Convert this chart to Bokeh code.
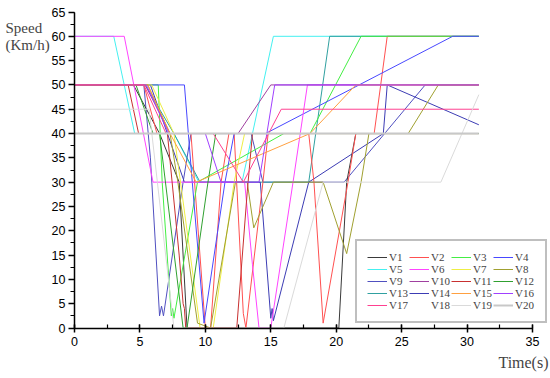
from bokeh.plotting import figure
from bokeh.models import Range1d, SingleIntervalTicker, Legend, LegendItem, Label
from bokeh.embed import file_html
from bokeh.resources import INLINE

NAMES = ["V%d" % i for i in range(1, 21)]
COLORS = ["#3a3a3a", "#ff5050", "#44ee44", "#4848ff", "#44f0f0", "#ff44ff", "#eeee44", "#a0a030",
          "#5050c0", "#a040a0", "#c83030", "#30a030", "#30a0a0", "#3c3cb4", "#ffa040", "#a040ff",
          "#ff4090", "#ffffff", "#dadada", "#c8c8c8"]

V1_T = [0, 4.5, 6.5, 8.0, 8.6, 20.2, 20.8, 21.5, 30.9]
V1_S = [50, 50, 40, 30, 0, 0, 30, 40, 40]
V2_T = [0, 5.3, 6.3, 8.9, 10.0, 10.4, 11.2, 11.8, 12.2, 12.9, 13.1, 14.4, 14.8, 17.9, 18.3, 19.0, 20.9, 21.5, 22.9, 23.9, 30.9]
V2_S = [50, 50, 40, 40, 0, 0, 30, 40, 40, 3, 0, 30, 40, 40, 30, 1, 30, 40, 40, 60, 60]
V3_T = [0, 6.4, 6.7, 7.4, 7.5, 7.6, 9.4, 16.0, 18.0, 21.9, 30.9]
V3_S = [50, 50, 30, 2.5, 4, 2, 30, 40, 40, 60, 60]
V4_T = [0, 8.4, 9.0, 9.9, 11.5, 12.2, 14.6, 28.9, 30.9]
V4_S = [50, 50, 30, 1, 30, 40, 40, 60, 60]
V5_T = [0, 3.0, 4.6, 7.6, 9.5, 12.8, 15.2, 30.9]
V5_S = [60, 60, 40, 40, 30, 30, 60, 60]
V6_T = [0, 3.8, 6.0, 13.0, 13.6, 14.1, 15.0, 16.7, 17.8, 30.9]
V6_S = [60, 60, 30, 30, 13, 0, 0, 30, 50, 50]
V7_T = [0, 5.9, 7.6, 9.6, 10.6, 12.2, 13.0, 30.9]
V7_S = [50, 50, 40, 0, 0, 30, 40, 40]
V8_T = [0, 5.6, 7.3, 7.9, 9.4, 10.4, 12.3, 13.2, 13.7, 15.2, 19.0, 20.8, 21.9, 22.5, 25.5, 27.8, 30.9]
V8_S = [50, 50, 40, 30, 1, 0, 30, 30, 20.6, 30, 30, 15.3, 30, 40, 40, 50, 50]
V9_T = [0, 5.3, 5.8, 6.5, 6.65, 6.8, 8.3, 8.9, 13.5, 14.4, 20.6, 26.8, 30.9]
V9_S = [50, 50, 35, 2.5, 4.5, 2.5, 30, 40, 40, 30, 30, 50, 50]
V10_T = [0, 5.4, 7.3, 12.5, 15.0, 30.9]
V10_S = [50, 50, 40, 40, 50, 50]
V11_T = [0, 4.1, 4.9, 7.1, 8.0, 8.3, 8.4, 8.5, 12.4, 13.2, 13.6, 30.9]
V11_S = [50, 50, 40, 40, 15, 5, 4, 0, 0, 28, 40, 40]
V12_T = [0, 4.7, 6.0, 6.5, 8.3, 8.6, 10.2, 10.8, 30.9]
V12_S = [50, 50, 40, 40, 0, 0, 30, 40, 40]
V13_T = [0, 5.4, 7.6, 9.6, 17.9, 19.5, 30.9]
V13_S = [50, 50, 40, 30, 30, 60, 60]
V14_T = [0, 5.8, 8.4, 14.2, 15.0, 15.1, 15.2, 17.9, 23.6, 23.9, 30.9]
V14_S = [50, 50, 30, 30, 2, 4, 1.5, 30, 40, 50, 41.8]
V15_T = [0, 5.6, 7.3, 9.3, 18.0, 21.5, 30.9]
V15_S = [50, 50, 40, 30, 40, 50, 50]
V16_T = [0, 5.5, 7.2, 10.0, 11.2, 14.1, 15.3, 30.9]
V16_S = [50, 50, 40, 40, 30, 30, 50, 50]
V17_T = [0, 5.3, 7.0, 10.6, 12.9, 15.8, 30.9]
V17_S = [50, 50, 40, 40, 30, 45, 45]
V18_T = [0, 30.9]
V18_S = [40, 40]
V19_T = [0, 5.7, 7.6, 16.0, 19.0, 28.0, 30.9]
V19_S = [45, 45, 0, 0, 30, 30, 48]
V20_T = [0, 30.9]
V20_S = [40, 40]

SERIES_T = [V1_T, V2_T, V3_T, V4_T, V5_T, V6_T, V7_T, V8_T, V9_T, V10_T,
            V11_T, V12_T, V13_T, V14_T, V15_T, V16_T, V17_T, V18_T, V19_T, V20_T]
SERIES_S = [V1_S, V2_S, V3_S, V4_S, V5_S, V6_S, V7_S, V8_S, V9_S, V10_S,
            V11_S, V12_S, V13_S, V14_S, V15_S, V16_S, V17_S, V18_S, V19_S, V20_S]

X_MIN, X_MAX = 0, 35
Y_MIN, Y_MAX = 0, 65

W, H = 550, 378
# frame covers the whole canvas; axes are pinned at 0 and bounded
XS = (532 - 74) / (X_MAX - X_MIN)
YS = (327.5 - 11.5) / (Y_MAX - Y_MIN)
x_lo = X_MIN - 74 / XS
x_hi = x_lo + W / XS
y_lo = Y_MIN - (H - 327.5) / YS
y_hi = y_lo + H / YS

p = figure(width=W, height=H, output_backend="svg", toolbar_location=None,
           x_range=Range1d(x_lo, x_hi), y_range=Range1d(y_lo, y_hi), min_border=0)
p.outline_line_color = None
p.xgrid.grid_line_color = None
p.ygrid.grid_line_color = None
p.background_fill_color = "white"
p.border_fill_color = "white"

ORDER = [17, 4, 8, 12, 13, 0, 1, 2, 3, 5, 6, 7, 9, 10, 11, 14, 15, 16, 18, 19]
rends = [None] * 20
for i in ORDER:
    lw = 2 if i == 19 else 1
    rends[i] = p.line(SERIES_T[i], SERIES_S[i], line_color=COLORS[i], line_width=lw)

p.xaxis.fixed_location = Y_MIN
p.yaxis.fixed_location = X_MIN
p.xaxis.bounds = (X_MIN, X_MAX)
p.yaxis.bounds = (Y_MIN, Y_MAX)
for ax in (p.xaxis[0], p.yaxis[0]):
    ax.ticker = SingleIntervalTicker(interval=5, num_minor_ticks=2)
    ax.axis_line_width = 1.5
    ax.axis_line_color = "black"
    ax.major_tick_line_width = 1.5
    ax.minor_tick_line_width = 1.2
    ax.major_label_text_font = "Liberation Sans"
    ax.major_label_text_font_size = "12.5px"
    ax.major_label_text_color = "black"

p.xaxis.major_tick_in = 4
p.xaxis.major_tick_out = 4
p.xaxis.minor_tick_in = 4
p.xaxis.minor_tick_out = 0
p.xaxis.major_label_standoff = 5
p.yaxis.major_tick_in = 0
p.yaxis.major_tick_out = 6
p.yaxis.minor_tick_in = 0
p.yaxis.minor_tick_out = 4
p.yaxis.major_label_standoff = 3

items = [LegendItem(label=NAMES[i], renderers=[rends[i]]) for i in range(20)]
legend = Legend(items=items, orientation="horizontal", ncols=4, location=(355, 55),
                label_text_font="Liberation Serif", label_text_font_size="11px",
                glyph_width=20, glyph_height=12, label_height=12, label_width=20,
                label_standoff=2, spacing=0, padding=10, margin=0,
                border_line_color="#808080", border_line_width=2,
                background_fill_color="white", background_fill_alpha=1.0)
p.add_layout(legend)


def tx(px):
    return X_MIN + (px - 74) / XS


def ty(py):
    return Y_MIN + (327.5 - py) / YS


p.add_layout(Label(x=tx(5), y=ty(27.5), text="Speed",
                   text_font="Liberation Serif", text_font_size="15px", text_baseline="middle"))
p.add_layout(Label(x=tx(5), y=ty(44), text="(Km/h)",
                   text_font="Liberation Serif", text_font_size="15px", text_baseline="middle"))
p.add_layout(Label(x=tx(548), y=ty(362), text="Time(s)",
                   text_font="Liberation Serif", text_font_size="16px", text_baseline="middle",
                   text_align="right"))

open("out.html", "w").write(file_html(p, INLINE))
